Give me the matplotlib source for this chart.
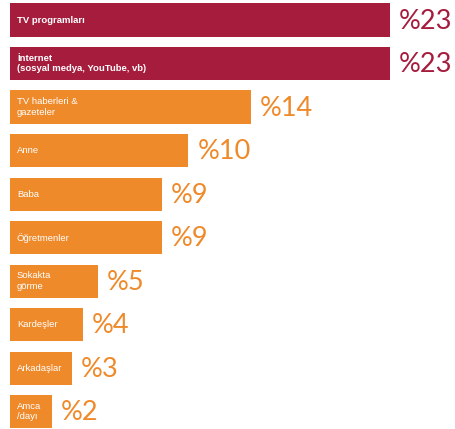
import matplotlib
matplotlib.use("Agg")
import matplotlib.pyplot as plt

categories = ["TV programları", "İnternet\n(sosyal medya, YouTube, vb)", "TV haberleri &\ngazeteler",
              "Anne", "Baba", "Öğretmenler", "Sokakta\ngörme", "Kardeşler", "Arkadaşlar", "Amca\n/dayı"]
# bar lengths as drawn in the picture (in percent units)
bar_lengths = [23, 23, 14.6, 10.8, 9.2, 9.2, 5.3, 4.4, 3.75, 2.55]
value_labels = ["%23", "%23", "%14", "%10", "%9", "%9", "%5", "%4", "%3", "%2"]

red = "#A51C3D"
orange = "#EF8A2B"
colors = [red, red] + [orange] * 8
bold = [True, True] + [False] * 8

fig = plt.figure(figsize=(4.55, 4.29), dpi=100)
ax = fig.add_axes([10 / 455, 0, 445 / 455, 1])
ypos = list(range(len(bar_lengths)))
ax.barh(ypos, bar_lengths, height=0.76, color=colors, edgecolor="none")
ax.set_xlim(0, 445 / 16.52)
ax.set_ylim(9.40, -0.46)
ax.axis("off")

for y, v, cat, lab, c, b in zip(ypos, bar_lengths, categories, value_labels, colors, bold):
    ax.annotate(cat, (0, y), xytext=(5, 0), textcoords="offset points",
                ha="left", va="center", color="white", fontsize=6.8,
                fontweight="bold" if b else "normal", family="Liberation Sans", linespacing=1.25)
    ax.annotate(lab, (v, y), xytext=(6.5, -1), textcoords="offset points",
                ha="left", va="center", color=c, fontsize=19.5,
                fontweight="normal", family="Lato")

fig.savefig("out.png", dpi=100)
